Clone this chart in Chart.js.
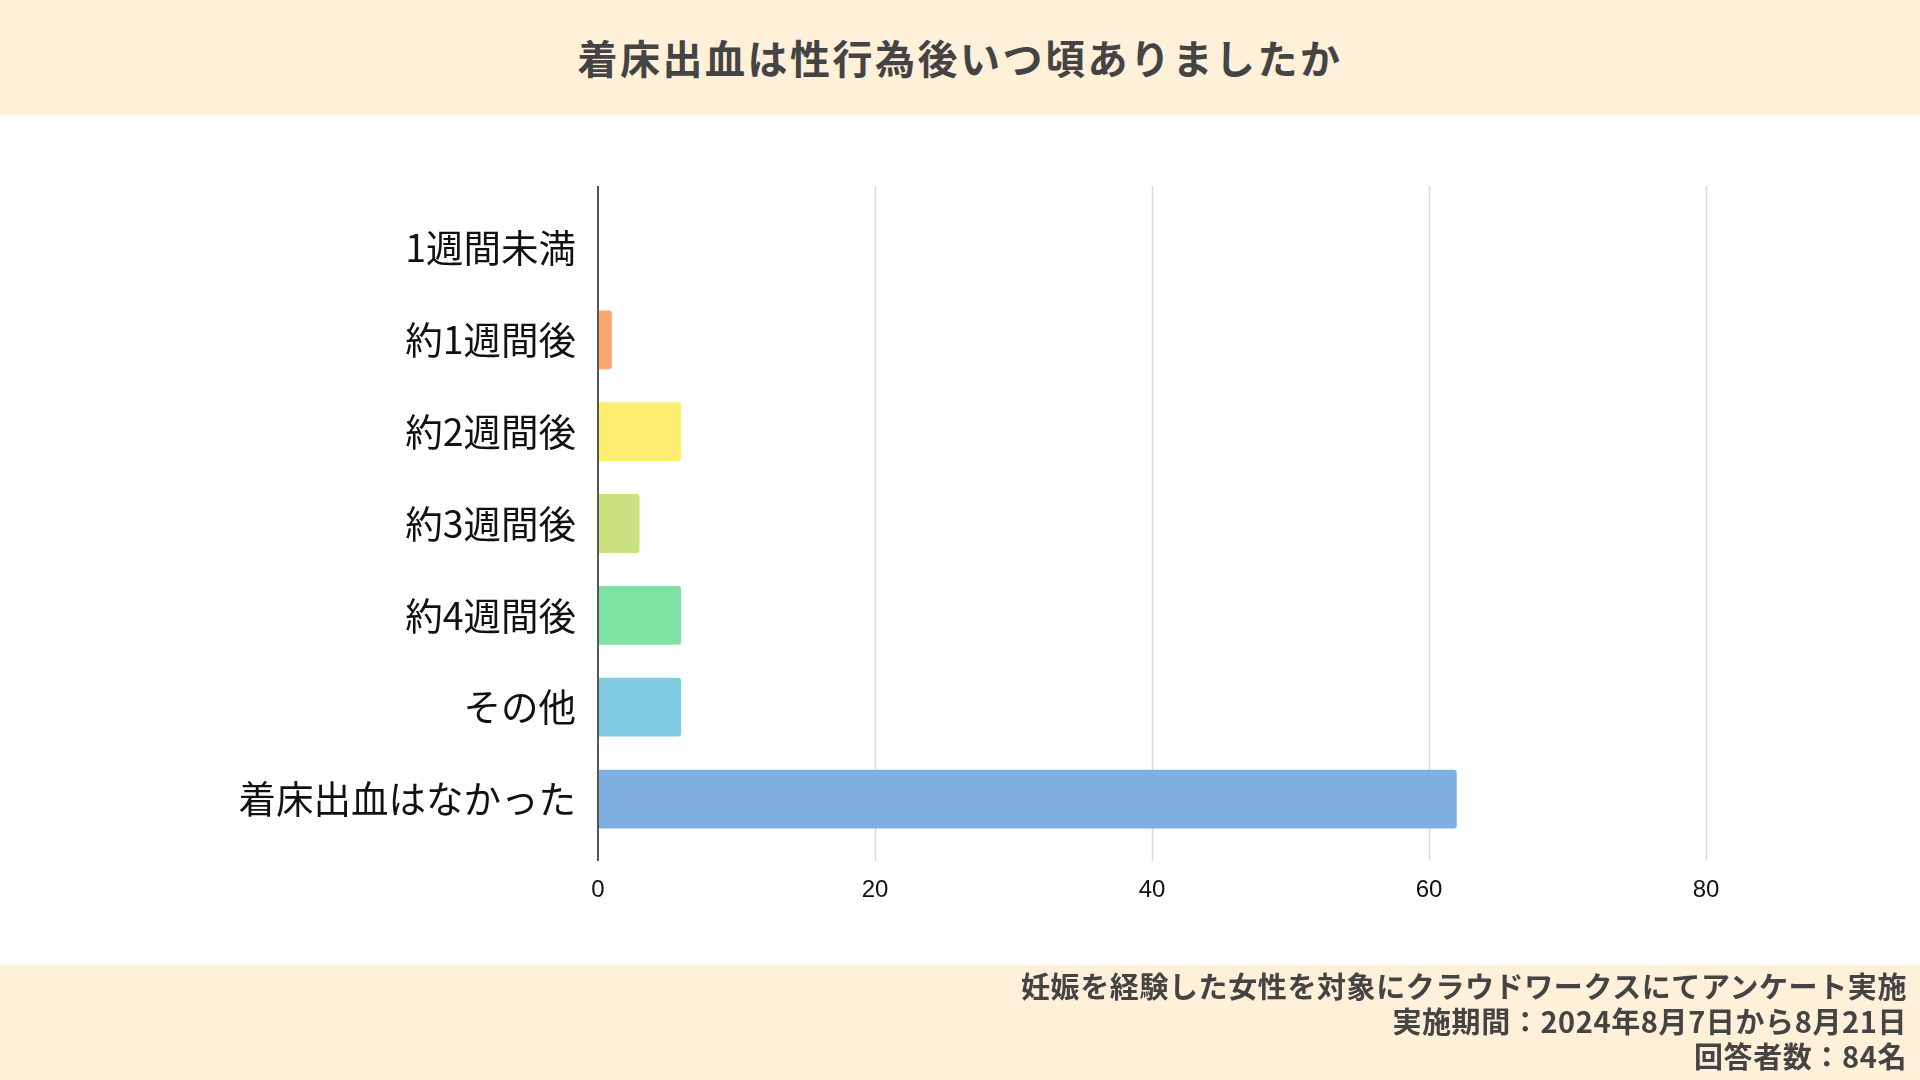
<!DOCTYPE html>
<html lang="ja">
<head>
<meta charset="utf-8">
<script src="https://cdn.jsdelivr.net/npm/chart.js@4.4.1/dist/chart.umd.min.js"></script>
<style>
  html, body { margin: 0; padding: 0; background: #ffffff; }
  body { width: 1920px; height: 1080px; position: relative; overflow: hidden; font-family: "Noto Sans CJK JP", sans-serif; }
  #header { position: absolute; left: 0; top: 0; width: 1920px; height: 115px; background: #FEF0D9; }
  #title { position: absolute; left: 0; width: 1920px; top: 57px; transform: translateY(-50%); text-align: center; font-size: 40px; letter-spacing: 2.5px; font-weight: 700; color: #444444; }
  #chartWrap { position: absolute; left: 0; top: 115px; width: 1920px; height: 850px; }
  #footer { position: absolute; left: 0; top: 965px; width: 1920px; height: 115px; background: #FEF0D9; }
  #notes { position: absolute; right: 13px; top: 3px; text-align: right; font-size: 29px; letter-spacing: 0.6px; font-weight: 700; color: #444444; line-height: 35px; }
</style>
</head>
<body>
<div id="header"><div id="title">着床出血は性行為後いつ頃ありましたか</div></div>
<div id="chartWrap"><canvas id="c" width="1920" height="850"></canvas></div>
<div id="footer"><div id="notes">
  <div>妊娠を経験した女性を対象にクラウドワークスにてアンケート実施</div>
  <div>実施期間：2024年8月7日から8月21日</div>
  <div>回答者数：84名</div>
</div></div>
<script>
const categories = ["1週間未満", "約1週間後", "約2週間後", "約3週間後", "約4週間後", "その他", "着床出血はなかった"];
const counts = [0, 1, 6, 3, 6, 6, 62];
const barColors = ["#FF8A8A", "#FFA570", "#FFEE70", "#CBE17F", "#80E1A5", "#80CBE1", "#80B0E1"];
const xTickValues = [0, 20, 40, 60, 80];

const gridPlugin = {
  id: 'extendedGrid',
  beforeDatasetsDraw(chart) {
    const ctx = chart.ctx;
    const xs = chart.scales.x;
    const area = chart.chartArea;
    const top = area.top - 16, bottom = area.bottom + 16;
    ctx.save();
    xTickValues.forEach(v => {
      if (v === 0) return;
      const px = Math.round(xs.getPixelForValue(v)) + 0.5;
      ctx.strokeStyle = '#DADADA';
      ctx.lineWidth = 1.5;
      ctx.beginPath(); ctx.moveTo(px, top); ctx.lineTo(px, bottom); ctx.stroke();
    });
    ctx.restore();
  },
  afterDatasetsDraw(chart) {
    const ctx = chart.ctx;
    const xs = chart.scales.x;
    const area = chart.chartArea;
    const px = xs.getPixelForValue(0);
    ctx.save();
    ctx.strokeStyle = '#555555';
    ctx.lineWidth = 2;
    ctx.beginPath(); ctx.moveTo(px, area.top - 16); ctx.lineTo(px, area.bottom + 16); ctx.stroke();
    ctx.restore();
  }
};

new Chart(document.getElementById('c'), {
  type: 'bar',
  data: {
    labels: categories,
    datasets: [{
      data: counts,
      backgroundColor: barColors,
      borderColor: barColors,
      borderWidth: 0,
      borderRadius: 3,
      borderSkipped: 'start',
      categoryPercentage: 0.8,
      barPercentage: 0.8
    }]
  },
  options: {
    indexAxis: 'y',
    responsive: false,
    animation: false,
    events: [],
    layout: { padding: { top: 87, right: 20, left: 0, bottom: 0 } },
    plugins: { legend: { display: false }, tooltip: { enabled: false }, title: { display: false } },
    scales: {
      x: {
        type: 'linear',
        min: 0,
        max: 94,
        afterBuildTicks(scale) { scale.ticks = xTickValues.map(v => ({ value: v })); },
        afterFit(scale) { scale.height = 120; },
        grid: { display: false, drawTicks: false },
        border: { display: false },
        ticks: { padding: 31, color: '#111111', font: { family: 'Liberation Sans', size: 24 } }
      },
      y: {
        afterFit(scale) { scale.width = 598; },
        grid: { display: false, drawTicks: false },
        border: { display: false },
        ticks: { padding: 22, color: '#111111', font: { family: 'Noto Sans CJK JP', size: 37.5 } }
      }
    }
  },
  plugins: [gridPlugin]
});
</script>
</body>
</html>
